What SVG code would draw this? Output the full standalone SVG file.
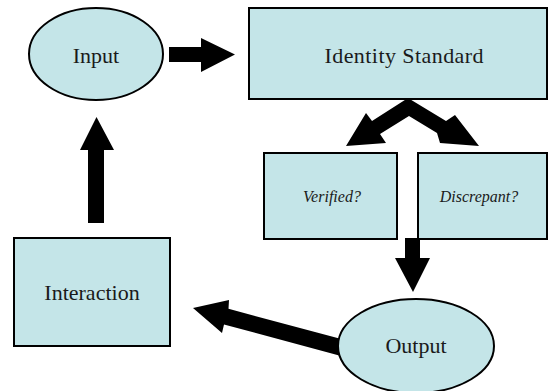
<svg xmlns="http://www.w3.org/2000/svg" width="548" height="391" viewBox="0 0 548 391">
<style>
.shape{fill:#c4e5e8;stroke:#000;stroke-width:2}
.lbl{font-family:"Liberation Serif","Times New Roman",serif;font-size:22px;fill:#1a1a1a;text-anchor:middle}
.it{font-family:"Liberation Serif","Times New Roman",serif;font-size:16px;font-style:italic;fill:#1a1a1a;text-anchor:middle}
.arrow{fill:#000}
</style>
<rect width="548" height="391" fill="#fff"/>
<g id="connectors">
<polygon class="arrow" points="169,47 201,47 201,38 235,54.5 201,72 201,62 169,62"/>
<polygon class="arrow" points="408,98 372,121 366,113 346,146 386,143 380,134 409,116 437,133 440,143 479,146 455,115 446,121"/>
<polygon class="arrow" points="405,238 420,238 420,258 430,258 413,292 395,258 405,258"/>
<polygon class="arrow" points="229,300 228.5,308.8 345,340 341,356 224,324.5 222,333 193,308"/>
<polygon class="arrow" points="88,223 88,150 80,150 96.5,117 114,150 104,150 104,223"/>
</g>
<g id="input">
<ellipse class="shape" cx="96" cy="54" rx="67" ry="46"/>
<text class="lbl" x="96" y="63">Input</text>
</g>
<g id="identity-standard">
<rect class="shape" x="249" y="8" width="298" height="91"/>
<text class="lbl" x="404" y="63" textLength="159" lengthAdjust="spacing">Identity Standard</text>
</g>
<g id="verified">
<rect class="shape" x="264" y="153" width="133" height="86"/>
<text class="it" x="332" y="202">Verified?</text>
</g>
<g id="discrepant">
<rect class="shape" x="418" y="153" width="129" height="86"/>
<text class="it" x="479" y="202">Discrepant?</text>
</g>
<g id="output">
<ellipse class="shape" cx="416" cy="346" rx="78" ry="47"/>
<text class="lbl" x="416" y="353">Output</text>
</g>
<g id="interaction">
<rect class="shape" x="14" y="238" width="156" height="108"/>
<text class="lbl" x="92" y="300">Interaction</text>
</g>
</svg>
